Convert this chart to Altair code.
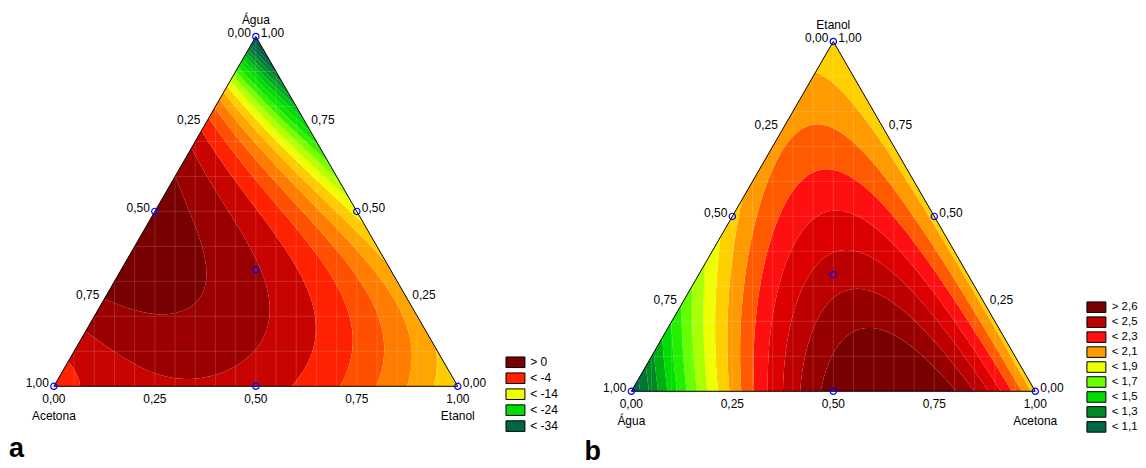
import math
import altair as alt

H = math.sqrt(3) / 2

# ---------------- shared axis data ----------------
TICK_VALUES = [0.0, 0.25, 0.5, 0.75, 1.0]
TICK_LABELS = ["0,00", "0,25", "0,50", "0,75", "1,00"]

# simplex-centroid design points (top, bottom-left, bottom-right fractions)
DESIGN_TOP = [1.0, 0.0, 0.0, 0.5, 0.5, 0.0, 1 / 3]
DESIGN_LEFT = [0.0, 1.0, 0.0, 0.5, 0.0, 0.5, 1 / 3]
DESIGN_RIGHT = [0.0, 0.0, 1.0, 0.0, 0.5, 0.5, 1 / 3]

# ---------------- panel a : fitted mixture surface ----------------
NAMES_A = ["Água", "Acetona", "Etanol"]          # top, bottom-left, bottom-right
LINEAR_A = [-42.0, -5.0, -14.0]
BINARY_A = [99.0, 52.0, 26.0]                     # top*left, top*right, left*right
CUBIC_A = [59.5, 0.0, 0.0]                        # x_i x_j (x_i - x_j)
QUARTIC_A = [52.2, 0.0, 0.0]                      # x_i x_j (x_i - x_j)^2
QUINTIC_A = [50.2, 0.0, 0.0]                      # x_i x_j (x_i - x_j)^3
TERNARY_A = -30.0
LEVELS_A = [0, -2, -4, -6, -8, -10, -12, -14, -16, -18, -20, -22, -24, -26,
            -28, -30, -32, -34, -36, -38, -40]
COLORS_A = ["#780000", "#9a0000", "#c80400", "#ff2200", "#ff5000", "#ff7c00",
            "#ffa400", "#ffcc00", "#eeff00", "#b8ff00", "#78ff00", "#38f000",
            "#10e400", "#00dd00", "#00c414", "#00aa22", "#00922a", "#007c36",
            "#006644", "#005c3e", "#005438", "#004c34"]
LEGEND_A = ["> 0", "< -4", "< -14", "< -24", "< -34"]

# ---------------- panel b : fitted mixture surface ----------------
NAMES_B = ["Etanol", "Água", "Acetona"]
LINEAR_B = [1.92, 1.0, 1.95]
BINARY_B = [2.0, 0.1, 4.7]
CUBIC_B = [0.0, 0.0, -1.0]
QUARTIC_B = [0.0, 0.0, 0.0]
QUINTIC_B = [0.0, 0.0, 0.0]
TERNARY_B = 1.93
LEVELS_B = [2.6, 2.5, 2.4, 2.3, 2.2, 2.1, 2.0, 1.9, 1.8, 1.7, 1.6, 1.5, 1.4,
            1.3, 1.2, 1.1]
COLORS_B = ["#780000", "#980000", "#bc0000", "#dc0000", "#ff1010", "#ff5a00",
            "#ff9a00", "#ffd000", "#eeff00", "#aaff00", "#66ff00", "#22f000",
            "#00dd00", "#00b010", "#008822", "#007733", "#006644"]
LEGEND_B = ["> 2,6", "< 2,5", "< 2,3", "< 2,1", "< 1,9", "< 1,7", "< 1,5",
            "< 1,3", "< 1,1"]

FONT = "Liberation Sans"
PROJ = dict(type="identity", reflectY=True, scale=405, translate=[46, 378.7])


def model(coef, t, l, r):
    lin, bi, cu, qu, qi, te = coef
    pairs = [(t, l), (t, r), (l, r)]
    v = lin[0] * t + lin[1] * l + lin[2] * r + te * t * l * r
    for k, (a, b) in enumerate(pairs):
        u = a - b
        v += a * b * (bi[k] + cu[k] * u + qu[k] * u ** 2 + qi[k] * u ** 3)
    return v


def cart(t, l, r):
    return r + t / 2.0, t * H


def fmt(v, decimals):
    return f"{v:.{decimals}f}".replace(".", ",")


def band_labels(levels, decimals):
    return ["> " + fmt(levels[0], decimals)] + ["< " + fmt(v, decimals) for v in levels]


def clip(poly, level, keep_above):
    out = []
    m = len(poly)
    for k in range(m):
        p1, v1 = poly[k]
        p2, v2 = poly[(k + 1) % m]
        in1 = v1 >= level if keep_above else v1 <= level
        in2 = v2 >= level if keep_above else v2 <= level
        if in1:
            out.append((p1, v1))
        if in1 != in2:
            s = (level - v1) / (v2 - v1)
            out.append(((p1[0] + s * (p2[0] - p1[0]), p1[1] + s * (p2[1] - p1[1])), level))
    return out


def isobands(coef, levels, labels, n=64):
    inf = float("inf")
    bounds = [(levels[0], inf)] + [(levels[k], levels[k - 1]) for k in range(1, len(levels))] \
        + [(-inf, levels[-1])]
    grid = {}
    for i in range(n + 1):
        for j in range(n + 1 - i):
            t, r = i / n, j / n
            l = max(0.0, 1.0 - t - r)
            grid[(i, j)] = (cart(t, l, r), model(coef, t, l, r))
    pieces = [[] for _ in bounds]
    for i in range(n):
        for j in range(n - i):
            tris = [[(i, j), (i, j + 1), (i + 1, j)]]
            if j < n - i - 1:
                tris.append([(i, j + 1), (i + 1, j + 1), (i + 1, j)])
            for tri in tris:
                poly = [grid[k] for k in tri]
                vals = [p[1] for p in poly]
                vmin, vmax = min(vals), max(vals)
                for b, (lo, hi) in enumerate(bounds):
                    if vmax < lo or vmin > hi:
                        continue
                    part = poly
                    if not (lo <= vmin and vmax <= hi):
                        if lo != -inf:
                            part = clip(part, lo, True)
                        if hi != inf and len(part) >= 3:
                            part = clip(part, hi, False)
                    if len(part) >= 3:
                        ring = [[round(p[0], 5), round(p[1], 5)] for p, _ in part]
                        ring.append(ring[0])
                        pieces[b].append([ring])
    feats = []
    for b, polys in enumerate(pieces):
        if polys:
            feats.append({"type": "Feature",
                          "geometry": {"type": "MultiPolygon", "coordinates": polys},
                          "properties": {"band": labels[b]}})
    return feats


def mesh_feature():
    lines = []
    for k in range(1, 20):
        x = k / 20
        top = x * 2 * H if x <= 0.5 else (1 - x) * 2 * H
        lines.append([[x, 0.0], [x, round(top, 5)]])
    for k in range(1, 10):
        t = k / 10
        lines.append([[t / 2, t * H], [1 - t / 2, t * H]])
    return [{"type": "Feature", "geometry": {"type": "MultiLineString", "coordinates": lines},
             "properties": {}}]


def outline_feature():
    ring = [list(cart(1, 0, 0)), list(cart(0, 1, 0)), list(cart(0, 0, 1)), list(cart(1, 0, 0))]
    return [{"type": "Feature", "geometry": {"type": "LineString", "coordinates": ring},
             "properties": {}}]


def rows_from(points):
    out = []
    for (t, l, r), lab in points:
        x, y = cart(t, l, r)
        out.append({"x": x, "y": y, "label": lab})
    return out


def make_panel(names, coef, levels, decimals, colors, legend_vals, view_w, view_h,
               legend_x, legend_y, row, label_off, label_size, letter, letter_dx,
               letter_offset):
    labels = band_labels(levels, decimals)
    feats = isobands(coef, levels, labels)

    sym_r = (row - 1.0) / 2.0
    hx = 9.5 / sym_r
    hy = 5.3 / sym_r
    sym_path = f"M{-hx:.3f},{-hy:.3f}H{hx:.3f}V{hy:.3f}H{-hx:.3f}Z"

    bands = alt.Chart(alt.Data(values=feats)).mark_geoshape().encode(
        color=alt.Color(
            "properties.band:N",
            scale=alt.Scale(domain=labels, range=colors),
            legend=alt.Legend(
                title=None, orient="none", legendX=legend_x, legendY=legend_y,
                values=legend_vals, symbolType=sym_path, symbolSize=(row - 1.0) ** 2,
                symbolStrokeColor="black", symbolStrokeWidth=1, symbolOpacity=1,
                labelOffset=label_off, labelFontSize=label_size, labelFont=FONT,
                labelColor="black", rowPadding=0, padding=0,
            ),
        )
    ).project(**PROJ)

    mesh = alt.Chart(alt.Data(values=mesh_feature())).mark_geoshape(
        filled=False, stroke="white", strokeOpacity=0.22, strokeWidth=0.7
    ).project(**PROJ)

    outline = alt.Chart(alt.Data(values=outline_feature())).mark_geoshape(
        filled=False, stroke="black", strokeWidth=1
    ).project(**PROJ)

    design = alt.Chart(alt.Data(values=[
        {"x": cart(t, l, r)[0], "y": cart(t, l, r)[1]}
        for t, l, r in zip(DESIGN_TOP, DESIGN_LEFT, DESIGN_RIGHT)
    ])).mark_point(shape="circle", filled=False, color="#0000ff", size=40,
                   strokeWidth=1.2, opacity=1).encode(
        longitude="x:Q", latitude="y:Q").project(**PROJ)

    left_ticks = rows_from([((1 - v, v, 0.0), lab) for v, lab in zip(TICK_VALUES, TICK_LABELS)])
    right_ticks = rows_from([((v, 0.0, 1 - v), lab) for v, lab in zip(TICK_VALUES, TICK_LABELS)])
    bottom_ticks = rows_from([((0.0, 1 - v, v), lab) for v, lab in zip(TICK_VALUES, TICK_LABELS)])
    top_name = rows_from([((1.0, 0.0, 0.0), names[0])])
    base_names = rows_from([((0.0, 1.0, 0.0), names[1]), ((0.0, 0.0, 1.0), names[2])])

    def txt(rows, **kw):
        return alt.Chart(alt.Data(values=rows)).mark_text(
            font=FONT, fontSize=12, color="black", baseline="middle", **kw
        ).encode(longitude="x:Q", latitude="y:Q", text="label:N").project(**PROJ)

    layers = [
        bands, mesh, outline, design,
        txt(left_ticks, align="right", dx=-5, dy=-3.5),
        txt(right_ticks, align="left", dx=5, dy=-3.5),
        txt(bottom_ticks, align="center", dy=12.5),
        txt(top_name, align="center", dy=-16.5),
        txt(base_names, align="center", dy=30),
    ]
    return alt.layer(*layers).properties(
        width=view_w, height=view_h,
        title=alt.TitleParams(letter, orient="bottom", anchor="start", font=FONT,
                              fontSize=27, fontWeight="bold", color="black",
                              baseline="alphabetic", offset=letter_offset, dx=letter_dx),
    )


panel_a = make_panel(NAMES_A, (LINEAR_A, BINARY_A, CUBIC_A, QUARTIC_A, QUINTIC_A, TERNARY_A),
                     LEVELS_A, 0, COLORS_A, LEGEND_A, 578, 430,
                     501.8, 347.6, 13.4, 7.8, 12, "a", 1, 20)
panel_b = make_panel(NAMES_B, (LINEAR_B, BINARY_B, CUBIC_B, QUARTIC_B, QUINTIC_B, TERNARY_B),
                     LEVELS_B, 1, COLORS_B, LEGEND_B, 552, 425,
                     504.8, 291.9, 14.25, 7.85, 11.5, "b", -1, 22.5)

spacer = alt.Chart(alt.Data(values=[{"v": 0}])).mark_point(opacity=0, size=1).properties(
    width=552, height=5)

chart = alt.hconcat(
    panel_a, alt.vconcat(spacer, panel_b, spacing=0), spacing=0
).resolve_scale(color="independent").resolve_legend(color="independent").properties(
    padding=0
).configure_view(stroke=None)

chart.save("out.html", embed_options={"renderer": "svg", "actions": False})
